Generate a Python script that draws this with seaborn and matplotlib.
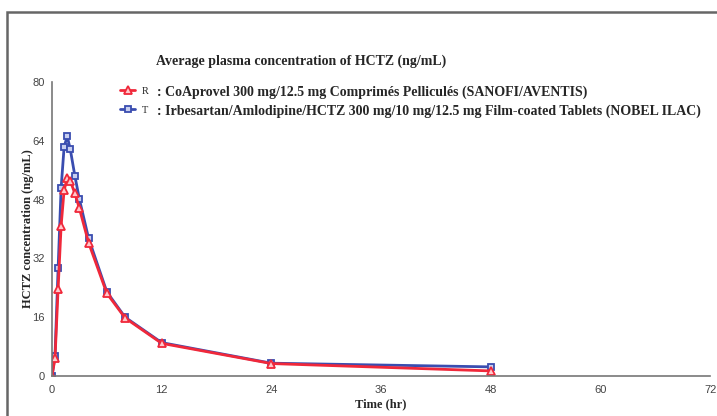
import numpy as np
import pandas as pd
import matplotlib
matplotlib.use("Agg")
import matplotlib.pyplot as plt
from matplotlib.patches import Rectangle
import seaborn as sns

# sampling times (hr) and mean concentrations (ng/mL)
time_hr = [0, 0.33, 0.67, 1, 1.33, 1.67, 2, 2.5, 3, 4, 6, 8, 12, 24, 48]
conc_R = [0, 4.8, 23.7, 40.9, 50.6, 53.8, 53.1, 49.7, 45.6, 36.3, 22.5, 15.8, 8.9, 3.4, 1.4]
conc_T = [0, 5.5, 29.3, 51.2, 62.4, 65.2, 61.7, 54.5, 48.1, 37.5, 22.9, 16.0, 9.1, 3.5, 2.5]
labels = {
    "R": ": CoAprovel 300 mg/12.5 mg Comprimés Pelliculés (SANOFI/AVENTIS)",
    "T": ": Irbesartan/Amlodipine/HCTZ 300 mg/10 mg/12.5 mg Film-coated Tablets (NOBEL ILAC)",
}
x_ticks = [0, 12, 24, 36, 48, 60, 72]
y_ticks = [0, 16, 32, 48, 64, 80]

df = pd.DataFrame({
    "time": time_hr * 2,
    "conc": conc_R + conc_T,
    "product": ["R"] * len(time_hr) + ["T"] * len(time_hr),
})

sns.set_style("white")
plt.rcParams["font.family"] = ["Liberation Serif", "DejaVu Serif"]

red = "#F0283A"
blue = "#3A4DB0"

fig = plt.figure(figsize=(7.17, 4.16), dpi=100)
ax = fig.add_axes([0.0725, 0.096, 0.918, 0.707])

# draw T first so R sits on top
sns.lineplot(data=df[df["product"] == "T"], x="time", y="conc", ax=ax, color=blue,
             marker="s", markersize=5, markerfacecolor="#c8cff0", markeredgecolor=blue,
             markeredgewidth=1.3, linewidth=2, label="T")
sns.lineplot(data=df[df["product"] == "R"], x="time", y="conc", ax=ax, color=red,
             marker="^", markersize=6, markerfacecolor="#ffc8cc", markeredgecolor=red,
             markeredgewidth=1.3, linewidth=2, label="R")

ax.set_xlim(0, 72)
ax.set_ylim(0, 80)
ax.set_xticks(x_ticks)
ax.set_yticks(y_ticks)
for s in ["top", "right"]:
    ax.spines[s].set_visible(False)
for s in ["left", "bottom"]:
    ax.spines[s].set_color("#777777")
    ax.spines[s].set_linewidth(1.2)
ax.tick_params(axis="x", direction="inout", length=6, width=1, colors="#777777",
               labelcolor="#444444", labelsize=8)
ax.tick_params(axis="y", direction="out", length=4.5, width=1, colors="#777777",
               labelcolor="#444444", labelsize=8, pad=0.5)
for lab in ax.get_xticklabels() + ax.get_yticklabels():
    lab.set_family("Liberation Sans")
ax.set_xlabel("Time (hr)", fontsize=9, fontweight="bold", labelpad=2)
ax.set_ylabel("HCTZ concentration (ng/mL)", fontsize=9, fontweight="bold")
ax.yaxis.set_label_coords(-0.028, 0.5)

ax.get_legend().remove()
handles, _ = ax.get_legend_handles_labels()
leg = fig.legend([handles[1], handles[0]], ["R", "T"], loc="upper left",
                 bbox_to_anchor=(0.167, 0.792), frameon=False, fontsize=7.5,
                 handlelength=1.5, handletextpad=0.6, labelspacing=0.95,
                 borderpad=0, borderaxespad=0)

fig.text(0.218, 0.852, "Average plasma concentration of HCTZ (ng/mL)",
         fontsize=10, fontweight="bold", va="center")
fig.text(0.219, 0.779, labels["R"], fontsize=10, fontweight="bold", va="center")
fig.text(0.219, 0.733, labels["T"], fontsize=10, fontweight="bold", va="center")

# page frame
fig.patches.append(Rectangle((7 / 717, -0.2), 1.2, 1.2 - 12 / 416, transform=fig.transFigure,
                             fill=False, edgecolor="#666666", linewidth=1.8))

fig.savefig("out.png", dpi=100)
